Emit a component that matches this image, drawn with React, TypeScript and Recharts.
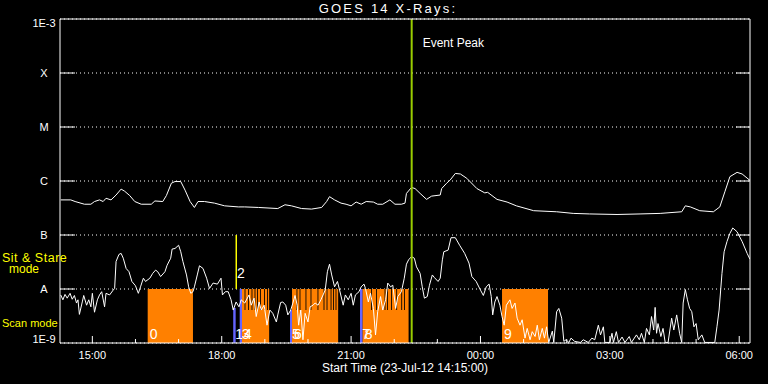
import React from "react";
import {
  ComposedChart,
  Line,
  Area,
  XAxis,
  YAxis,
  CartesianGrid,
  ReferenceArea,
  ReferenceLine,
} from "recharts";

// time = minutes after 14:15 UT on 23-Jul-12, value = log10 flux (W/m^2)
const goesLong: [number, number][] = [
  [1, -6.35], [15, -6.35], [21, -6.38], [34, -6.43], [43, -6.43], [48, -6.38], [55, -6.35], [60, -6.38],
  [64, -6.32], [71, -6.35], [78, -6.26], [85, -6.15], [90, -6.19], [97, -6.27], [104, -6.38], [113, -6.43],
  [127, -6.43], [132, -6.37], [143, -6.38], [148, -6.27], [155, -6.04], [160, -6.01], [168, -6.01], [174, -6.17],
  [181, -6.38], [187, -6.49], [192, -6.38], [201, -6.38], [215, -6.41], [229, -6.46], [248, -6.48], [257, -6.48],
  [276, -6.49], [303, -6.51], [313, -6.44], [322, -6.46], [336, -6.51], [350, -6.52], [364, -6.49], [371, -6.38],
  [375, -6.29], [382, -6.35], [391, -6.41], [398, -6.43], [405, -6.46], [412, -6.39], [419, -6.43], [426, -6.38],
  [436, -6.39], [442, -6.43], [449, -6.43], [459, -6.35], [466, -6.43], [475, -6.43], [480, -6.41], [482, -6.23],
  [489, -6.12], [494, -6.14], [501, -6.23], [510, -6.34], [517, -6.28], [529, -6.26], [531, -6.14], [538, -6.04],
  [543, -5.98], [550, -5.86], [557, -5.87], [566, -5.95], [580, -6.14], [591, -6.22], [595, -6.21], [608, -6.34],
  [622, -6.39], [635, -6.46], [659, -6.55], [691, -6.57], [714, -6.6], [737, -6.61], [775, -6.62], [807, -6.61],
  [835, -6.6], [865, -6.57], [870, -6.46], [877, -6.48], [890, -6.55], [909, -6.57], [918, -6.48], [925, -6.2],
  [932, -5.92], [942, -5.84], [949, -5.87], [960, -5.99],
];

const goesShort: [number, number][] = [
  [1, -8.11], [4, -8.2], [7, -8.1], [10, -8.17], [14, -8.08], [17, -8.19], [20, -8.12], [23, -8.26], [25, -8.2],
  [27, -8.47], [31, -8.24], [33, -8.12], [37, -8.3], [40, -8.2], [43, -8.33], [45, -8.08], [48, -8.43], [52, -8.2],
  [55, -8.11], [58, -8.05], [62, -8.33], [64, -8.08], [69, -8.11], [74, -8.02], [76, -7.99], [78, -7.49], [82, -7.36],
  [85, -7.34], [88, -7.43], [92, -7.62], [96, -7.68], [100, -7.86], [105, -7.94], [109, -8.08], [112, -7.96],
  [116, -7.8], [119, -7.86], [125, -7.8], [129, -7.71], [133, -7.65], [136, -7.68], [140, -7.77], [146, -7.68],
  [149, -7.56], [154, -7.43], [156, -7.26], [160, -7.25], [165, -7.19], [168, -7.31], [171, -7.49], [176, -7.74],
  [179, -7.96], [182, -8.08], [185, -8.05], [187, -7.96], [191, -7.74], [194, -7.57], [199, -7.62], [204, -7.8],
  [208, -7.99], [213, -7.89], [219, -7.91], [224, -7.8], [226, -8.11], [230, -8.05], [234, -8.05], [238, -8.2],
  [241, -8.39], [245, -8.24], [249, -8.33], [252, -8.2], [257, -8.26], [263, -8.11], [266, -8.3], [270, -8.17],
  [273, -8.51], [277, -8.24], [280, -8.39], [284, -8.3], [288, -8.67], [292, -8.39], [296, -8.45], [301, -8.61],
  [303, -8.48], [307, -8.25], [310, -8.24], [314, -8.3], [317, -8.48], [321, -8.39], [324, -8.26], [327, -8.12],
  [330, -8.3], [332, -8.67], [335, -8.39], [338, -8.94], [341, -8.45], [345, -8.61], [348, -8.33], [352, -8.3],
  [355, -8.26], [359, -8.3], [363, -8.2], [366, -8.11], [369, -8.02], [372, -7.68], [375, -7.54], [378, -7.74],
  [382, -7.96], [386, -7.86], [389, -8.02], [394, -8.3], [397, -8.11], [401, -8.2], [405, -8.08], [408, -8.3],
  [411, -8.11], [416, -8.05], [419, -7.96], [423, -7.91], [425, -7.99], [429, -8.24], [432, -8.08], [436, -8.36],
  [439, -8.85], [442, -8.42], [446, -8.14], [449, -8.39], [453, -8.2], [456, -7.89], [460, -7.96], [463, -7.93],
  [467, -8.36], [470, -8.14], [475, -8.05], [479, -7.8], [482, -7.54], [485, -7.46], [489, -7.4], [493, -7.43],
  [496, -7.59], [501, -7.71], [504, -7.96], [507, -8.17], [511, -8.14], [514, -7.93], [518, -7.74], [521, -7.79],
  [526, -7.86], [529, -7.8], [532, -7.46], [534, -7.31], [540, -7.28], [544, -7.05], [550, -7.05], [556, -7.19],
  [563, -7.34], [569, -7.52], [573, -7.77], [579, -7.86], [585, -8.02], [589, -8.12], [593, -7.96], [597, -7.91],
  [600, -8.14], [602, -8.48], [605, -8.24], [608, -8.14], [612, -8.3], [615, -8.51], [618, -8.67], [621, -8.3],
  [626, -8.2], [629, -8.36], [633, -8.26], [636, -8.54], [640, -8.67], [643, -8.57], [647, -8.91], [650, -8.73],
  [654, -8.94], [657, -8.79], [661, -8.88], [664, -8.67], [667, -8.94], [671, -8.73], [674, -8.91], [677, -8.7],
  [680, -8.99], [685, -8.78], [687, -8.99], [691, -8.42], [694, -8.36], [698, -8.54], [701, -8.97], [704, -8.94],
  [708, -8.99], [711, -8.91], [716, -8.97], [724, -8.99], [728, -8.94], [735, -8.99], [740, -8.91], [744, -8.94],
  [749, -8.67], [752, -8.85], [756, -8.7], [758, -8.99], [765, -8.99], [768, -8.82], [770, -8.99], [774, -8.79],
  [777, -8.99], [782, -8.89], [786, -8.99], [792, -8.88], [795, -8.99], [802, -8.85], [806, -8.94], [809, -8.82],
  [813, -8.99], [816, -8.73], [820, -8.85], [823, -8.51], [826, -8.76], [828, -8.34], [830, -8.82], [832, -8.64],
  [836, -8.88], [839, -8.73], [842, -8.99], [846, -8.99], [851, -8.54], [854, -8.76], [858, -8.48], [862, -8.82],
  [865, -8.99], [867, -8.26], [870, -8.01], [873, -8.2], [876, -8.36], [879, -8.42], [882, -8.7], [885, -8.64],
  [888, -8.94], [893, -8.85], [897, -8.99], [911, -8.99], [914, -8.7], [917, -8.39], [921, -7.71], [924, -7.31],
  [928, -7.12], [932, -6.97], [936, -6.87], [942, -6.94], [949, -7.12], [956, -7.34], [960, -7.45],
];

const levelTicks = [-9, -8, -7, -6, -5, -4, -3];
const levelLabels = ["1E-9", "A", "B", "C", "M", "X", "1E-3"];

const hourTicks = [45, 105, 165, 225, 285, 345, 405, 465, 525, 585, 645, 705, 765, 825, 885, 945];
const hourLabels = ["15:00", "", "", "18:00", "", "", "21:00", "", "", "00:00", "", "", "03:00", "", "", "06:00"];

// observations: raster = scan mode, cal = short scan, sit = sit & stare
const obsIds = ["0", "1", "2", "3", "4", "5", "6", "7", "8", "9"];
const obsMode = ["raster", "cal", "sit", "cal", "raster", "cal", "raster", "cal", "raster", "raster"];
const obsStart = [122, 241, 244.2, 250, 253.2, 320, 322.8, 417.4, 421.1, 615];
const obsEnd = [185, 244.4, 246.3, 253.2, 291, 322.8, 387, 421.1, 485, 679];
const obsLow = [-9, -9, -8, -9, -9, -9, -9, -9, -9, -9];
const obsHigh = [-8, -8.35, -7, -8, -8, -8.39, -8, -8, -8, -8];

// short gaps inside raster blocks (minutes), upper row only
const rasterGaps = [
  257.4, 262.3, 267.1, 271.3, 274.8, 279, 284.5, 288.7,
  329.7, 333.9, 342.2, 349.2, 358.9, 367.3, 371.5, 377.1, 380.5, 384,
  433.4, 440.3, 452.2, 455.6, 461.2, 468.4, 475.4, 479.3,
];
const gapDepth = -8.39;

const eventPeak = 489.3;

const FONT = "Liberation Sans, Arial, sans-serif";
const MODE_COLORS: Record<string, string> = { raster: "#ff8000", cal: "#6464ff", sit: "#ffff00" };

const longData = goesLong.map(([t, v]) => ({ t, v }));
const shortData = goesShort.map(([t, v]) => ({ t, v }));

const obsData = obsIds.map((_, i) => [
  { t: obsStart[i], r: [obsLow[i], obsHigh[i]] },
  { t: obsEnd[i], r: [obsLow[i], obsHigh[i]] },
]);
const gapData = rasterGaps.map((t) => [
  { t: t - 0.6, r: [gapDepth, -8] },
  { t: t + 0.6, r: [gapDepth, -8] },
]);

const BottomTick = (p: any) => {
  const { x, y, payload } = p;
  const label = hourLabels[hourTicks.indexOf(payload.value)];
  const len = label ? 7 : 4;
  return (
    <g>
      <line x1={x} x2={x} y1={y} y2={y - len} stroke="#fff" />
      {label && (
        <text x={x} y={y + 16} textAnchor="middle" fill="#fff" fontSize={11} fontFamily={FONT}>
          {label}
        </text>
      )}
    </g>
  );
};

const TopTick = (p: any) => {
  const { x, y, payload } = p;
  const label = hourLabels[hourTicks.indexOf(payload.value)];
  const len = label ? 7 : 4;
  return <line x1={x} x2={x} y1={y} y2={y + len} stroke="#fff" />;
};

const LeftTick = (p: any) => {
  const { x, y, payload } = p;
  const v = payload.value;
  const inner = v > -9 && v < -3;
  const dy = v === -3 ? 8 : v === -9 ? 0 : 4;
  return (
    <g>
      {inner && <line x1={x} x2={x + 15} y1={y} y2={y} stroke="#fff" />}
      <text x={x - 16} y={y + dy} textAnchor="middle" fill="#fff" fontSize={11} fontFamily={FONT}>
        {levelLabels[levelTicks.indexOf(v)]}
      </text>
    </g>
  );
};

const RightTick = (p: any) => {
  const { x, y, payload } = p;
  const v = payload.value;
  if (v <= -9 || v >= -3) return <g />;
  return <line x1={x} x2={x - 14} y1={y} y2={y} stroke="#fff" />;
};

const obsLabel = (id: string, mode: string) => (p: any) => {
  const { x, y, width, height } = p.viewBox;
  if (mode === "sit") {
    return (
      <text x={x + width} y={y + height - 11} fill="#fff" fontSize={14} fontFamily={FONT}>
        {id}
      </text>
    );
  }
  return (
    <text x={x + 2} y={y + height - 4} fill="#fff" fontSize={14} fontFamily={FONT}>
      {id}
    </text>
  );
};

const peakLabel = (p: any) => {
  const { x, y } = p.viewBox;
  return (
    <text x={x + 11} y={y + 28} fill="#fff" fontSize={12} fontFamily={FONT}>
      Event Peak
    </text>
  );
};

export default function App() {
  return (
    <div style={{ position: "absolute", left: 0, top: 0, width: 768, height: 384, background: "#000" }}>
      <ComposedChart width={768} height={384} margin={{ top: 0, right: 0, bottom: 0, left: 0 }}>
        <CartesianGrid vertical={false} stroke="#fff" strokeDasharray="1 3" />
        <XAxis
          dataKey="t"
          type="number"
          domain={[0, 960]}
          ticks={hourTicks}
          interval={0}
          allowDataOverflow
          height={41}
          tickSize={0}
          tickMargin={0}
          tickLine={false}
          axisLine={{ stroke: "#fff" }}
          tick={BottomTick}
        />
        <XAxis
          xAxisId="top"
          orientation="top"
          type="number"
          domain={[0, 960]}
          ticks={hourTicks}
          interval={0}
          allowDataOverflow
          height={19}
          tickSize={0}
          tickMargin={0}
          tickLine={false}
          axisLine={{ stroke: "#fff" }}
          tick={TopTick}
        />
        <YAxis
          type="number"
          domain={[-9, -3]}
          ticks={levelTicks}
          interval={0}
          allowDataOverflow
          width={60}
          tickSize={0}
          tickMargin={0}
          tickLine={false}
          axisLine={{ stroke: "#fff" }}
          tick={LeftTick}
        />
        <YAxis
          yAxisId="r"
          orientation="right"
          type="number"
          domain={[-9, -3]}
          ticks={levelTicks}
          interval={0}
          allowDataOverflow
          width={18}
          tickSize={0}
          tickMargin={0}
          tickLine={false}
          axisLine={{ stroke: "#fff" }}
          tick={RightTick}
        />
        {obsData.map((d, i) => (
          <Area
            key={`obs-${obsIds[i]}`}
            data={d}
            dataKey="r"
            type="linear"
            fill={MODE_COLORS[obsMode[i]]}
            fillOpacity={1}
            stroke="none"
            dot={false}
            activeDot={false}
            isAnimationActive={false}
          />
        ))}
        {gapData.map((d, i) => (
          <Area
            key={`gap-${i}`}
            data={d}
            dataKey="r"
            type="linear"
            fill="#000"
            fillOpacity={1}
            stroke="none"
            dot={false}
            activeDot={false}
            isAnimationActive={false}
          />
        ))}
        <Line
          data={shortData}
          dataKey="v"
          type="linear"
          dot={false}
          activeDot={false}
          stroke="#fff"
          strokeWidth={1}
          isAnimationActive={false}
        />
        <Line
          data={longData}
          dataKey="v"
          type="linear"
          dot={false}
          activeDot={false}
          stroke="#fff"
          strokeWidth={1}
          isAnimationActive={false}
        />
        {obsIds.map((id, i) => (
          <ReferenceArea
            key={`obs-label-${id}`}
            x1={obsStart[i]}
            x2={obsEnd[i]}
            y1={obsLow[i]}
            y2={obsHigh[i]}
            fill="none"
            fillOpacity={0}
            stroke="none"
            label={obsLabel(id, obsMode[i])}
          />
        ))}
        <ReferenceLine x={eventPeak} stroke="#99cc00" strokeWidth={2} label={peakLabel} />
      </ComposedChart>
      <svg
        width={768}
        height={384}
        style={{ position: "absolute", left: 0, top: 0, pointerEvents: "none" }}
      >
        <text
          x={388}
          y={13}
          textAnchor="middle"
          fill="#fff"
          fontSize={13}
          letterSpacing={2.2}
          fontFamily={FONT}
        >
          GOES 14 X-Rays:
        </text>
        <text x={405} y={372} textAnchor="middle" fill="#fff" fontSize={12} fontFamily={FONT}>
          Start Time (23-Jul-12 14:15:00)
        </text>
        <text x={2} y={262} fill="#ffff00" fontSize={12.5} letterSpacing={0.5} fontFamily={FONT}>
          Sit &amp; Stare
        </text>
        <text x={24} y={273} textAnchor="middle" fill="#ffff00" fontSize={12} fontFamily={FONT}>
          mode
        </text>
        <text x={2} y={327} fill="#ffff00" fontSize={11} fontFamily={FONT}>
          Scan mode
        </text>
      </svg>
    </div>
  );
}
